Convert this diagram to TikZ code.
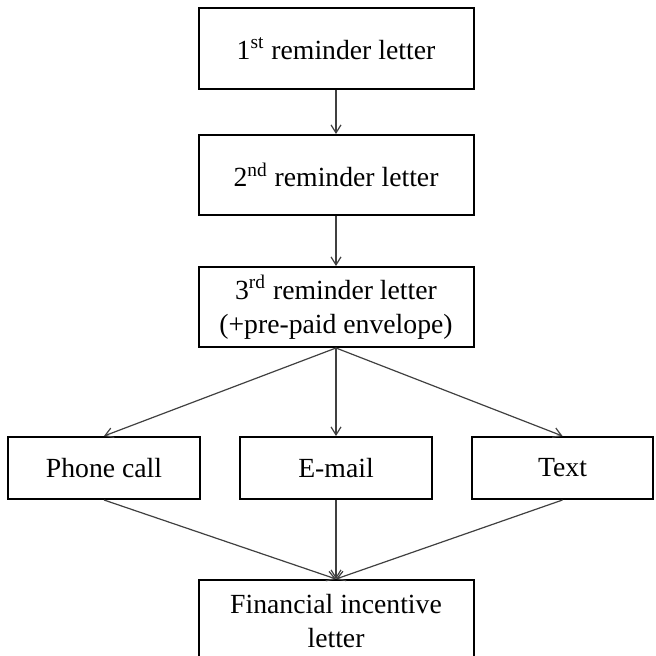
\documentclass[tikz,border=0pt]{standalone}
\usepackage{fontspec}
\setmainfont{Liberation Serif}
\usetikzlibrary{arrows.meta}

\begin{document}
\begin{tikzpicture}[x=0.5pt,y=-0.5pt,
        box/.style={draw,line width=1pt,align=center,inner sep=0pt,
            minimum width=137.5pt,minimum height=40pt,
            font=\fontsize{13.85}{17}\selectfont},
        smallbox/.style={box,minimum width=96pt,minimum height=31pt},
        arr/.style={draw=black!75,line width=0.6pt,-{Straight Barb[length=4pt,width=5pt]}}]
                \useasboundingbox (0,0) rectangle (655,656);
                \clip (0,0) rectangle (655,656);

                \node[box,minimum height=40.5pt] (first) at (336,48.5) {1\textsuperscript{st} reminder letter};
                \node[box] (second) at (336,175) {2\textsuperscript{nd} reminder letter};
                \node[box] (third) at (336,307) {3\textsuperscript{rd} reminder letter\\(+pre-paid envelope)};

                \node[smallbox] (phone) at (104,468) {Phone call};
                \node[smallbox] (email) at (336,468) {E-mail};
                \node[smallbox,minimum width=90.5pt] (text) at (562.5,468) {Text};

                \node[box,minimum height=41pt] (incentive) at (336,621) {Financial incentive\\letter};

                \draw[arr] (first) -- (second);
                \draw[arr] (second) -- (third);
                \draw[arr] (third.south) -- (phone.north);
                \draw[arr] (third.south) -- (email.north);
                \draw[arr] (third.south) -- (text.north);
                \draw[arr] (phone.south) -- (incentive.north);
                \draw[arr] (email.south) -- (incentive.north);
                \draw[arr] (text.south) -- (incentive.north);
            \end{tikzpicture}
\end{document}
